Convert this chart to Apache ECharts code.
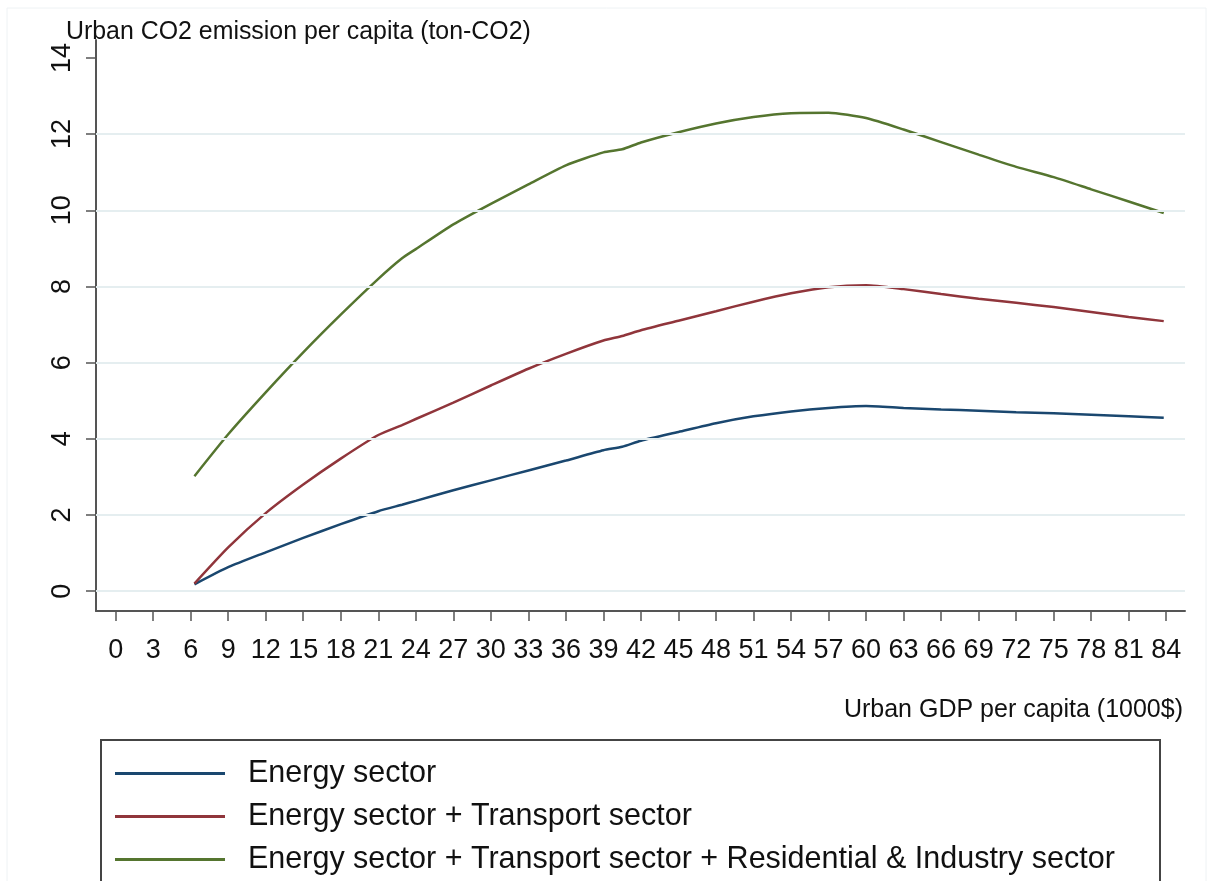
<!DOCTYPE html>
<html><head><meta charset="utf-8">
<script src="https://cdn.jsdelivr.net/npm/echarts@6/dist/echarts.min.js"></script>
<style>html,body{margin:0;padding:0;background:#fff}#c{width:1213px;height:881px}</style>
</head><body><div id="c"></div>
<script>
// Urban GDP per capita (1000$)
const gdp = [6.3, 9, 12, 15, 18, 21, 22.9, 24, 27, 30, 33, 36, 39, 40.5, 42, 45, 48, 51, 54, 57, 60, 63, 66, 69, 72, 75, 78, 81, 83.8];
// Urban CO2 emission per capita (ton-CO2)
const energy = [0.18, 0.63, 1.02, 1.40, 1.76, 2.10, 2.27, 2.37, 2.65, 2.91, 3.17, 3.43, 3.70, 3.79, 3.95, 4.18, 4.41, 4.59, 4.72, 4.81, 4.86, 4.81, 4.77, 4.74, 4.70, 4.67, 4.63, 4.59, 4.55];
const energyTransport = [0.20, 1.15, 2.05, 2.80, 3.48, 4.10, 4.36, 4.52, 4.95, 5.40, 5.84, 6.23, 6.58, 6.70, 6.85, 7.10, 7.35, 7.60, 7.82, 7.98, 8.03, 7.93, 7.80, 7.68, 7.57, 7.46, 7.33, 7.20, 7.09];
const energyTransportResInd = [3.02, 4.12, 5.22, 6.27, 7.26, 8.20, 8.74, 8.98, 9.63, 10.17, 10.68, 11.18, 11.52, 11.60, 11.78, 12.05, 12.28, 12.45, 12.55, 12.56, 12.42, 12.12, 11.79, 11.46, 11.14, 10.87, 10.55, 10.23, 9.93];
const seriesNames = ['Energy sector', 'Energy sector + Transport sector', 'Energy sector + Transport sector + Residential & Industry sector'];
const seriesColors = ['#1a476f', '#90353b', '#55752f'];
const xTicks = [0,3,6,9,12,15,18,21,24,27,30,33,36,39,42,45,48,51,54,57,60,63,66,69,72,75,78,81,84];
const yTicks = [0,2,4,6,8,10,12,14];
const yGrid = [0,2,4,6,8,10,12];
const yTitle = 'Urban CO2 emission per capita (ton-CO2)';
const xTitle = 'Urban GDP per capita (1000$)';

const FONT = 'Liberation Sans, Arial, sans-serif';
const chart = echarts.init(document.getElementById('c'), null, {renderer: 'canvas'});
const pairs = arr => gdp.map((g, i) => [g, arr[i]]);
const dataSets = [energy, energyTransport, energyTransportResInd];

const series = [{
  type: 'line', name: '_grid', data: [], z: 1, silent: true,
  markLine: {
    silent: true, symbol: 'none', label: {show: false},
    lineStyle: {color: '#e5eef0', width: 2, type: 'solid'},
    emphasis: {disabled: true},
    data: yGrid.map(v => ({yAxis: v}))
  }
}];
dataSets.forEach((d, i) => series.push({
  type: 'line', name: seriesNames[i], data: pairs(d), z: 3,
  showSymbol: false, smooth: 0.2, silent: true,
  lineStyle: {color: seriesColors[i], width: 2.5},
  itemStyle: {color: seriesColors[i]}
}));

chart.setOption({
  animation: false,
  backgroundColor: '#fff',
  title: [
    {text: yTitle, left: 61, top: 15, textStyle: {fontFamily: FONT, fontSize: 24.9, fontWeight: 'normal', color: '#111'}},
    {text: xTitle, right: 25, top: 693, textStyle: {fontFamily: FONT, fontSize: 25, fontWeight: 'normal', color: '#111'}}
  ],
  grid: {left: 96, right: 28, top: 40, bottom: 270, containLabel: false},
  xAxis: {
    type: 'value', min: -1.57, max: 85.5,
    axisLine: {show: true, onZero: false, lineStyle: {color: '#555', width: 2}},
    axisTick: {show: true, customValues: xTicks, length: 10, lineStyle: {color: '#555', width: 1.5}},
    axisLabel: {show: true, customValues: xTicks, margin: 26, fontFamily: FONT, fontSize: 27, color: '#111'},
    splitLine: {show: false}
  },
  yAxis: {
    type: 'value', min: -0.52, max: 14.47,
    axisLine: {show: true, onZero: false, lineStyle: {color: '#555', width: 2}},
    axisTick: {show: true, customValues: yTicks, length: 10, lineStyle: {color: '#555', width: 1.5}},
    axisLabel: {show: true, customValues: yTicks, rotate: 90, margin: 20, fontFamily: FONT, fontSize: 27, color: '#111'},
    splitLine: {show: false}
  },
  legend: {
    data: seriesNames, orient: 'vertical', left: 110, top: 753, height: 160, width: 1100,
    icon: 'rect', itemWidth: 110, itemHeight: 3, itemGap: 12,
    textStyle: {fontFamily: FONT, fontSize: 30.5, color: '#111', padding: [0, 0, 0, 18]},
    selectedMode: false
  },
  graphic: [
    {type: 'rect', shape: {x: 7, y: 8, width: 1199, height: 900}, style: {fill: 'none', stroke: '#eef2f4', lineWidth: 1}, silent: true, z: 0},
    {type: 'rect', shape: {x: 101, y: 740, width: 1059, height: 200}, style: {fill: 'none', stroke: '#444', lineWidth: 2}, silent: true, z: 0}
  ],
  series: series
});
</script>
</body></html>
